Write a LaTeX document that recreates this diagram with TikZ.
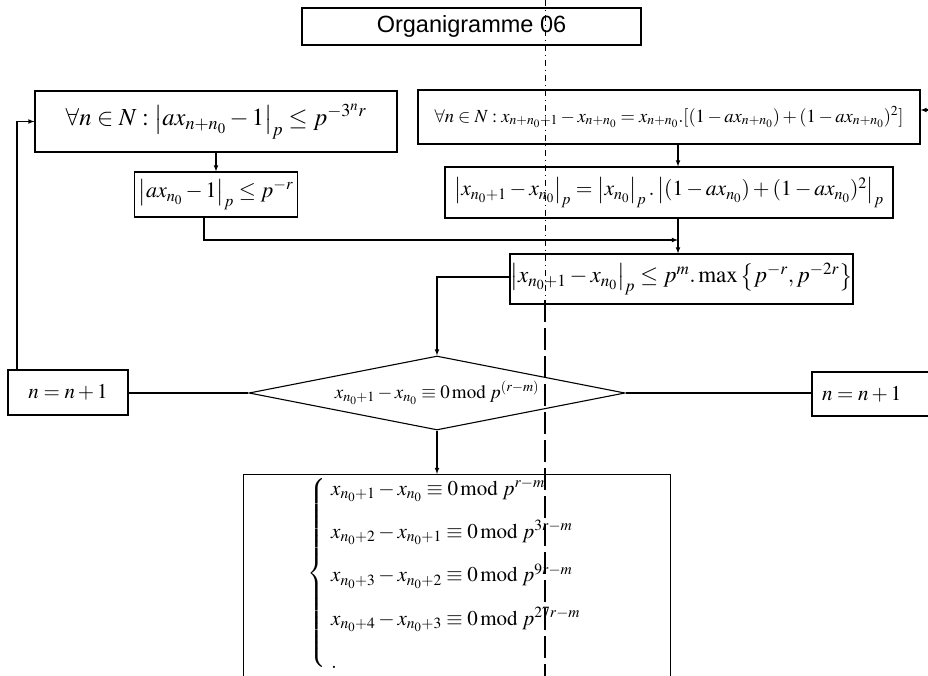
\documentclass[tikz,border=0pt]{standalone}
\usepackage{mathptmx}
\usepackage[no-math]{fontspec}
\newfontfamily\titlefont{Liberation Sans}
\usetikzlibrary{shapes.geometric,positioning}

\begin{document}
\begin{tikzpicture}[x=1pt, y=-1pt, node distance=2cm]
    % Define styles
    \tikzstyle{box} = [rectangle, draw, line width=1.1pt, inner sep=0pt, text centered]
    \tikzstyle{test} = [diamond, draw, line width=1.1pt, inner sep=0pt, aspect=5]
    \tikzstyle{line} = [draw, -latex, line width=1.1pt]
    \tikzstyle{link} = [draw, line width=1.1pt]
    \useasboundingbox (0,0) rectangle (928,676);
    \clip (0,0) rectangle (928,676);

    % Place nodes
    \node [box, minimum width=339pt, minimum height=37pt] (title) at (471.5,26.5) {\titlefont\fontsize{23.5}{28}\selectfont Organigramme 06};
    \node [box, minimum width=362pt, minimum height=61pt] (ineqall) at (216,121.5) {\fontsize{24.5}{28}\selectfont $\forall n\in N : \left|ax_{n+n_0}-1\right|_p \le p^{-3^n r}$};
    \node [box, below of=ineqall, node distance=73pt, minimum width=163pt, minimum height=45pt] (ineqzero) {\fontsize{22}{26}\selectfont $\left|ax_{n_0}-1\right|_p \le p^{-r}$};
    \node [box, minimum width=502pt, minimum height=54pt] (recur) at (669,117) {\fontsize{18.5}{22}\selectfont $\forall n\in N : x_{n+n_0+1}-x_{n+n_0} = x_{n+n_0}.[(1-ax_{n+n_0})+(1-ax_{n+n_0})^2]$};
    \node [box, below of=recur, node distance=75.5pt, minimum width=448pt, minimum height=51pt] (recnorm) {\fontsize{21.5}{26}\selectfont $\left|x_{n_0+1}-x_{n_0}\right|_p = \left|x_{n_0}\right|_p.\left|(1-ax_{n_0})+(1-ax_{n_0})^2\right|_p$};
    \node [box, minimum width=343pt, minimum height=50pt] (bound) at (681.5,279) {\fontsize{23}{27}\selectfont $\left|x_{n_0+1}-x_{n_0}\right|_p \le p^m.\max\left\{p^{-r},p^{-2r}\right\}$};
    \node [test, minimum width=376pt, minimum height=74pt] (cong) at (437,393) {\fontsize{19}{22}\selectfont $x_{n_0+1}-x_{n_0}\equiv 0\,\mathrm{mod}\;p^{(r-m)}$};
    \node [box, minimum width=120pt, minimum height=45pt] (incl) at (68,392.5) {\fontsize{21}{25}\selectfont $n=n+1$};
    \node [box, minimum height=44pt, text width=118pt, inner xsep=10pt, align=left] (incr) at (881,394) {\fontsize{21}{25}\selectfont $n=n+1$};
    \node [box, anchor=north west, text width=299pt, inner xsep=64pt, align=left, text height=104pt, text depth=120pt] (sys) at (243,474) {\fontsize{21}{24}\selectfont\renewcommand{\arraystretch}{1.81}\delimiterfactor=800 \delimitershortfall=35pt $\left\{\begin{array}{l}
        x_{n_0+1}-x_{n_0}\equiv 0\,\mathrm{mod}\;p^{r-m}\\
        x_{n_0+2}-x_{n_0+1}\equiv 0\,\mathrm{mod}\;p^{3r-m}\\
        x_{n_0+3}-x_{n_0+2}\equiv 0\,\mathrm{mod}\;p^{9r-m}\\
        x_{n_0+4}-x_{n_0+3}\equiv 0\,\mathrm{mod}\;p^{27r-m}\\
        .
        \end{array}\right.$};

    % Draw edges
    \coordinate (join) at (678,240);
    \coordinate (back) at (934,110);
    \path [line] (ineqall.south) -- (ineqzero.north);
    \path [line] ([xshift=-12pt]ineqzero.south) |- (join);
    \path [line] (recur.south -| join) -- (recnorm.north -| join);
    \path [line] (recnorm.south -| join) -- (bound.north -| join);
    \path [line] ([yshift=2pt]bound.west) -| (cong.north);
    \path [link] (cong.west) -- (cong.west -| incl.east);
    \path [link] (cong.east) -- (cong.east -| incr.west);
    \path [line] ([xshift=-51pt]incl.north) |- (ineqall.west);
    \path [line] (back) -- (back -| recur.east);
    \path [line] (cong.south) -- (cong.south |- sys.north);

    % Fold line
    \draw [line width=0.8pt, dash pattern=on 6pt off 4pt on 1pt off 4pt] (545,0) -- (545,300);
    \draw [line width=2pt, dash pattern=on 22pt off 6pt] (545,300) -- (545,676);
\end{tikzpicture}
\end{document}
